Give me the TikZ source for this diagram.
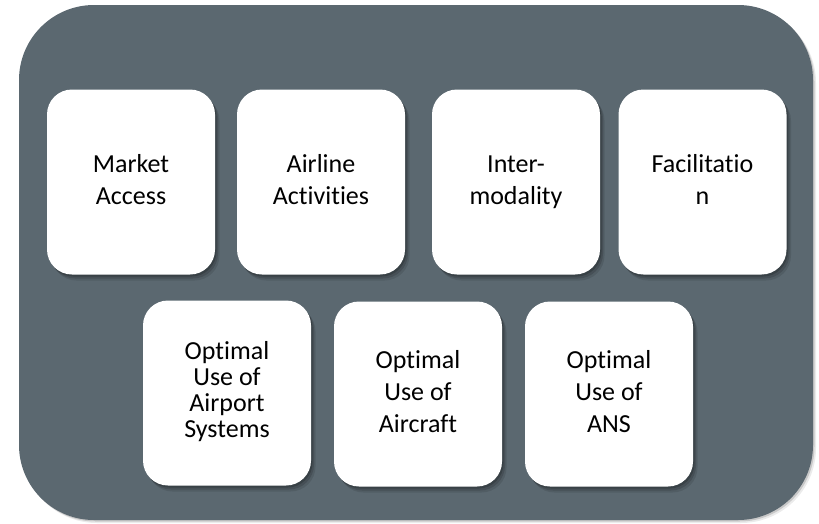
\documentclass[tikz,border=0pt]{standalone}
\usepackage{fontspec}
\setmainfont{Carlito}[Ligatures={NoCommon,NoRequired}]
\usetikzlibrary{shadows}
\definecolor{slate}{RGB}{91,104,112}
\begin{document}
\begin{tikzpicture}[x=1pt,y=-1pt,
  card/.style={fill=white, rounded corners=25pt, minimum width=168pt,
    minimum height=185pt, align=center, inner sep=0pt,
    font=\fontsize{26}{32}\selectfont,
    drop shadow={shadow xshift=1.5pt, shadow yshift=-2pt, opacity=0.18, fill=black},
    drop shadow={shadow xshift=3pt, shadow yshift=-4pt, opacity=0.14, fill=black},
    drop shadow={shadow xshift=4.5pt, shadow yshift=-6pt, opacity=0.10, fill=black}},
  frame/.style={fill=slate, rounded corners=75pt, minimum width=794pt,
    minimum height=515pt, inner sep=0pt,
    drop shadow={shadow xshift=1.5pt, shadow yshift=-1.5pt, opacity=0.15, fill=black},
    drop shadow={shadow xshift=3pt, shadow yshift=-3pt, opacity=0.08, fill=black}}
]
\useasboundingbox (0,0) rectangle (819,523);
\node[frame] (frame) at (416,262.5) {};
\node[card] (ma) at (131,182) {\strut Market\\Access\strut};
\node[card] (aa) at (321,182) {\strut Airline\\Activities\strut};
\node[card] (im) at (516,182) {\strut Inter-\\modality\strut};
\node[card] (fa) at (702.5,182) {\strut Facilitatio\\n\strut};
\node[card, font=\fontsize{26}{26}\selectfont] (as) at (227,393) {\strut Optimal\\Use of\\Airport\\Systems\strut};
\node[card] (ac) at (418,394) {\strut Optimal\\Use of\\Aircraft\strut};
\node[card] (ans) at (609,394) {\strut Optimal\\Use of\\ANS\strut};
\end{tikzpicture}
\end{document}
